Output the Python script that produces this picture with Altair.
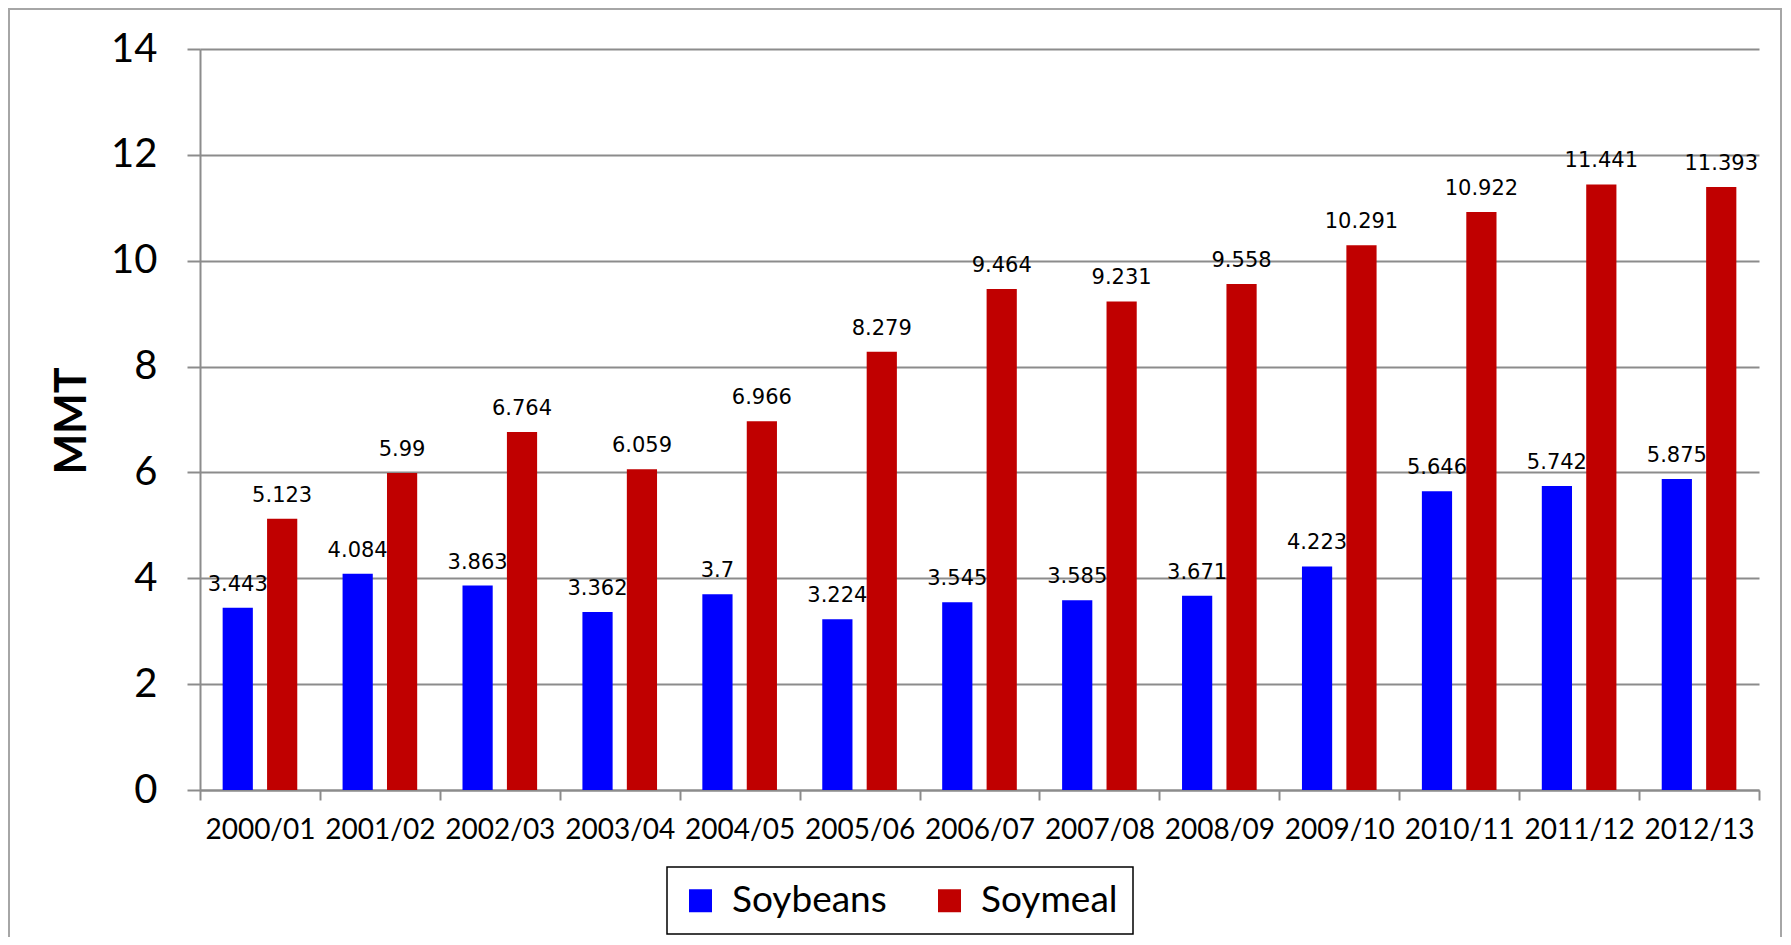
import altair as alt
import pandas as pd

years = ["2000/01", "2001/02", "2002/03", "2003/04", "2004/05", "2005/06", "2006/07",
         "2007/08", "2008/09", "2009/10", "2010/11", "2011/12", "2012/13"]
soybeans = [3.443, 4.084, 3.863, 3.362, 3.7, 3.224, 3.545, 3.585, 3.671, 4.223, 5.646, 5.742, 5.875]
soymeal = [5.123, 5.99, 6.764, 6.059, 6.966, 8.279, 9.464, 9.231, 9.558, 10.291, 10.922, 11.441, 11.393]
series = ["Soybeans", "Soymeal"]
colors = ["#0000FF", "#C00000"]
y_ticks = [0, 2, 4, 6, 8, 10, 12, 14]

rows = []
for i, yr in enumerate(years):
    rows.append({"year": yr, "series": series[0], "value": soybeans[i], "label": str(soybeans[i])})
    rows.append({"year": yr, "series": series[1], "value": soymeal[i], "label": str(soymeal[i])})
df = pd.DataFrame(rows)

grid_color = "#8c8c8c"

x_enc = alt.X(
    "year:N", sort=years, title=None,
    scale=alt.Scale(paddingInner=0, paddingOuter=0),
    axis=alt.Axis(labelAngle=0, labelFont="Lato", labelFontSize=28, labelColor="black",
                  labelPadding=16, tickSize=10, tickWidth=2, tickColor=grid_color,
                  tickBand="extent", domainColor=grid_color, domainWidth=2, grid=False),
)
xo_enc = alt.XOffset("series:N", sort=series,
                     scale=alt.Scale(paddingInner=0.32, paddingOuter=0.51))
y_enc = alt.Y(
    "value:Q", title="MMT",
    scale=alt.Scale(domain=[0, 14], nice=False),
    axis=alt.Axis(values=y_ticks, labelFont="Lato", labelFontSize=40, labelColor="black",
                  labelPadding=30, tickSize=13, tickWidth=2, tickColor=grid_color,
                  domainColor=grid_color, domainWidth=2, grid=True, gridColor=grid_color,
                  gridWidth=2, titleFont="Lato", titleFontSize=43, titleFontWeight="bold",
                  titleColor="black", titleAngle=270, titleAlign="center",
                  titleBaseline="middle", titleX=-128, titleY=371.5),
)

bars = alt.Chart(df).mark_bar().encode(
    x=x_enc, xOffset=xo_enc, y=y_enc,
    color=alt.Color(
        "series:N", sort=series,
        scale=alt.Scale(domain=series, range=colors),
        legend=alt.Legend(orient="none", legendX=467, legendY=818, direction="horizontal",
                          title=None, strokeColor="black", fillColor="white",
                          padding=15, symbolType="square", symbolSize=529,
                          symbolStrokeWidth=0, labelFont="Lato", labelFontSize=37,
                          labelColor="black", labelOffset=13, columnPadding=44),
    ),
)

labels = alt.Chart(df).mark_text(
    font="DejaVu Sans", fontSize=21, color="black", baseline="alphabetic", dy=-17
).encode(
    x=alt.X("year:N", sort=years), xOffset=alt.XOffset("series:N", sort=series),
    y=alt.Y("value:Q"), text=alt.Text("label:N"),
)

frame = alt.Chart(pd.DataFrame({"f": [0]})).mark_rect(
    fill=None, stroke="#a6a6a6", strokeWidth=2, clip=False
).encode(
    x=alt.value(-191), x2=alt.value(1581), y=alt.value(-40), y2=alt.value(980)
)

chart = alt.layer(frame, bars, labels).properties(
    width=1559, height=741,
    padding={"left": 192, "top": 41, "right": 24, "bottom": 147},
    autosize=alt.AutoSizeParams(type="none"),
    background="white",
).configure_view(stroke=None).configure_legend(strokeWidth=1.5)

chart.save("out.html", embed_options={"renderer": "svg", "actions": False})
